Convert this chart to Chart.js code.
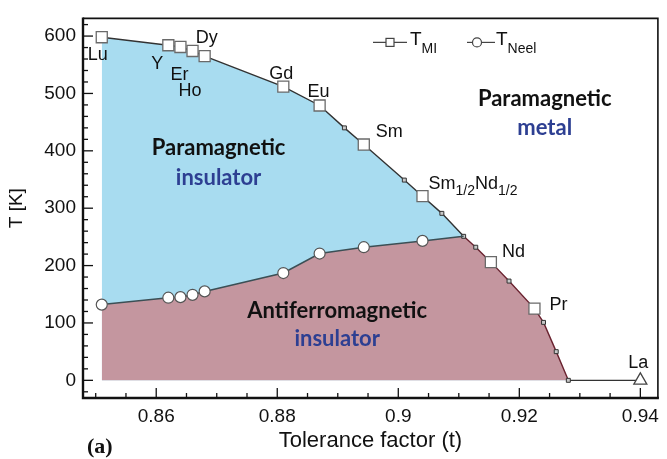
<!DOCTYPE html>
<html><head><meta charset="utf-8">
<script src="https://cdn.jsdelivr.net/npm/chart.js@4.4.1/dist/chart.umd.min.js"></script>
<style>html,body{margin:0;padding:0;background:#fff;}#wrap{width:667px;height:459px;position:relative;}</style>
</head><body><div id="wrap"><canvas id="c" width="667" height="459"></canvas></div>
<script>
// ---- data ----
const compounds = ['Lu','Y','Er','Ho','Dy','Gd','Eu','Sm','Sm1/2Nd1/2','Nd','Pr'];
const tolerance = [0.851,0.862,0.864,0.866,0.868,0.881,0.887,0.8943,0.904,0.9153,0.9225];
const tMI = [598,584,581,574,565,512,479,411,321,206,125];
const tNeel = [132,144,145,149,155,187,221,232,243];           // first 9 compounds
const boundaryT = [0.8911,0.901,0.9072,0.9108,0.9128,0.9183,0.924,0.9261,0.9281]; // small markers on T_MI line
const boundaryK = [440,349,291,251,232,173,101,50,0];
const neelEndIndex = 3;            // T_Neel line meets T_MI line at this small marker
const laName = ['La'];
const laT = [0.94];
const laK = [0];
const xTicks = [0.86,0.88,0.9,0.92,0.94];
const yTicks = [0,100,200,300,400,500,600];

// ---- label placement (pixel offsets from the point) ----
const labelOffsets = {
  'Lu':[-14,23],'Y':[-17,24],'Er':[-10,33],'Ho':[-14,45],'Dy':[-9,-13],'Gd':[-14,-8],
  'Eu':[-12,-8],'Sm':[12,-8],'Sm1/2Nd1/2':[6,-7],'Nd':[11,-5],'Pr':[15,1],'La':[-12,-12]
};

// ---- derived point lists ----
const majorPts = tolerance.map((t,i)=>({x:t,y:tMI[i]}));
const laPts = laT.map((t,i)=>({x:t,y:laK[i]}));
const minorPts = boundaryT.map((t,i)=>({x:t,y:boundaryK[i],minor:true}));
const tmiLine = majorPts.concat(minorPts).sort((a,b)=>a.x-b.x);
const tmiFull = tmiLine.concat(laPts);
const neelPts = tNeel.map((v,i)=>({x:tolerance[i],y:v}));
neelPts.push({x:boundaryT[neelEndIndex],y:boundaryK[neelEndIndex],end:true});
const afmPts = neelPts.concat(tmiLine.filter(p=>p.x>boundaryT[neelEndIndex]));

const SANS = 'Liberation Sans';
const REG = 'Lato';

const framePlugin = {
  id:'frame',
  afterDatasetsDraw(chart){
    const {ctx, chartArea:a, scales:{x,y}} = chart;
    ctx.save();
    ctx.strokeStyle = '#111';
    ctx.lineWidth = 1.3;
    for (let v = 0.85; v <= 0.9425; v += 0.005) {
      const vv = Math.round(v*1000)/1000;
      const px = x.getPixelForValue(vv);
      const major = xTicks.some(t=>Math.abs(t-vv)<1e-6);
      ctx.beginPath(); ctx.moveTo(px, a.bottom); ctx.lineTo(px, a.bottom-(major?10:5)); ctx.stroke();
    }
    for (let v = -20; v <= 620; v += 20) {
      const py = y.getPixelForValue(v);
      const major = v % 100 === 0;
      ctx.beginPath(); ctx.moveTo(a.left, py); ctx.lineTo(a.left+(major?10:5), py); ctx.stroke();
    }
    ctx.lineWidth = 1.6;
    ctx.beginPath(); ctx.moveTo(a.left, a.top); ctx.lineTo(a.right, a.top); ctx.lineTo(a.right, a.bottom); ctx.stroke();
    ctx.lineWidth = 2.4;
    ctx.beginPath(); ctx.moveTo(a.left, a.top-1); ctx.lineTo(a.left, a.bottom); ctx.lineTo(a.right+1, a.bottom); ctx.stroke();
    ctx.restore();
  }
};

function subText(ctx, parts, x, yb, big, small, drop){
  let cx = x;
  parts.forEach(([s,sub])=>{
    ctx.font = (sub?small:big)+'px "'+SANS+'"';
    ctx.fillText(s, cx, yb + (sub?drop:0));
    cx += ctx.measureText(s).width;
  });
}

const annotatePlugin = {
  id:'annot',
  afterDraw(chart){
    const {ctx, scales:{x,y}, chartArea:a} = chart;
    ctx.save();
    ctx.fillStyle = '#111';
    ctx.textAlign = 'left';
    ctx.textBaseline = 'alphabetic';
    const all = compounds.map((c,i)=>[c,tolerance[i],tMI[i]]).concat(laName.map((c,i)=>[c,laT[i],laK[i]]));
    all.forEach(([c,t,k])=>{
      const px = x.getPixelForValue(t), py = y.getPixelForValue(k);
      const [dx,dy] = labelOffsets[c];
      if (c === 'Sm1/2Nd1/2') {
        subText(ctx, [['Sm',0],['1/2',1],['Nd',0],['1/2',1]], px+dx, py+dy, 18, 14, 6);
      } else {
        ctx.font = '18px "'+SANS+'"';
        ctx.fillText(c, px+dx, py+dy);
      }
    });
    const regions = [
      ['Paramagnetic','#111',0.8703,392],['insulator','#2d3f92',0.8703,341],
      ['Paramagnetic','#111',0.9242,478],['metal','#2d3f92',0.9242,428],
      ['Antiferromagnetic','#111',0.8899,109],['insulator','#2d3f92',0.8899,59]
    ];
    ctx.textAlign = 'center';
    regions.forEach(([s,col,t,k])=>{
      ctx.font = 'bold 22px "'+REG+'"';
      ctx.fillStyle = col;
      ctx.fillText(s, x.getPixelForValue(t), y.getPixelForValue(k));
    });
    ctx.textAlign = 'left';
    ctx.fillStyle = '#111';
    ctx.strokeStyle = '#444';
    ctx.lineWidth = 1.2;
    const ly = a.top + 24;
    const l1 = a.left + 290;
    ctx.beginPath(); ctx.moveTo(l1, ly); ctx.lineTo(l1+34, ly); ctx.stroke();
    ctx.fillStyle = '#fff'; ctx.fillRect(l1+13, ly-4, 8, 8); ctx.strokeRect(l1+13, ly-4, 8, 8);
    ctx.fillStyle = '#111';
    subText(ctx, [['T',0],['MI',1]], l1+37, ly+3, 19, 14, 8);
    const l2 = a.left + 384;
    ctx.beginPath(); ctx.moveTo(l2, ly); ctx.lineTo(l2+28, ly); ctx.stroke();
    ctx.fillStyle = '#fff'; ctx.beginPath(); ctx.arc(l2+10, ly, 4.5, 0, Math.PI*2); ctx.fill(); ctx.stroke();
    ctx.fillStyle = '#111';
    subText(ctx, [['T',0],['Neel',1]], l2+29, ly+3, 19, 14, 8);
    ctx.font = 'bold 22px "Liberation Serif"';
    ctx.fillText('(a)', 87, 453);
    ctx.restore();
  }
};

new Chart(document.getElementById('c'), {
  type:'scatter',
  data:{datasets:[
    {label:'T_MI markers', data:majorPts, showLine:false, pointStyle:'rect', pointRadius:7.8,
     pointBackgroundColor:'#fff', pointBorderColor:'#6a6a6a', pointBorderWidth:1.3, order:0},
    {label:'La', data:laPts, showLine:false, pointStyle:'triangle', pointRadius:7.5,
     pointBackgroundColor:'#fff', pointBorderColor:'#444', pointBorderWidth:1.3, order:0},
    {label:'T_Neel', data:neelPts, showLine:true, borderColor:'#3b4f55', borderWidth:1.5,
     pointStyle:'circle', pointRadius:c=>c.raw&&c.raw.end?0:5.5, pointBackgroundColor:'#fff',
     pointBorderColor:'#555', pointBorderWidth:1.2, order:1},
    {label:'T_MI', data:tmiFull, showLine:true, borderColor:'#333', borderWidth:1.4,
     pointStyle:'rect', pointRadius:c=>c.raw&&c.raw.minor?2.8:0, pointBackgroundColor:'#c8c8c8',
     pointBorderColor:'#333', pointBorderWidth:1,
     segment:{borderColor:c=>(c.p0.parsed.x>=boundaryT[neelEndIndex]-1e-6 && c.p0.parsed.y>0)?'#6b2330':undefined},
     order:2},
    {label:'AFM', data:afmPts, showLine:true, borderWidth:0, borderColor:'rgba(0,0,0,0)', pointRadius:0,
     fill:'origin', backgroundColor:'#c4969f', order:3},
    {label:'PI', data:tmiLine, showLine:true, borderWidth:0, borderColor:'rgba(0,0,0,0)', pointRadius:0,
     fill:'origin', backgroundColor:'#a8dcf0', order:4}
  ]},
  options:{
    responsive:false, animation:false,
    layout:{padding:{top:11,right:2,left:0,bottom:0}},
    plugins:{legend:{display:false}, tooltip:{enabled:false}},
    scales:{
      x:{type:'linear', min:0.8479, max:0.9429,
         afterBuildTicks:s=>{s.ticks = xTicks.map(v=>({value:v}));},
         afterFit:s=>{s.height = 61;},
         grid:{display:false, drawTicks:false}, border:{display:false},
         ticks:{callback:v=>String(+(+v).toFixed(2)), color:'#111', font:{family:SANS,size:19}, padding:7, maxRotation:0, autoSkip:false},
         title:{display:true, text:'Tolerance factor (t)', color:'#111', font:{family:SANS,size:22}, padding:{top:0,bottom:5}}},
      y:{type:'linear', min:-30.8, max:630.8,
         afterBuildTicks:s=>{s.ticks = yTicks.map(v=>({value:v}));},
         afterFit:s=>{s.width = 83;},
         grid:{display:false, drawTicks:false}, border:{display:false},
         ticks:{color:'#111', font:{family:SANS,size:19}, padding:7, autoSkip:false},
         title:{display:true, text:'T [K]', color:'#111', font:{family:SANS,size:19}, padding:{top:5,bottom:0}}}
    }
  },
  plugins:[framePlugin, annotatePlugin]
});
</script></body></html>
